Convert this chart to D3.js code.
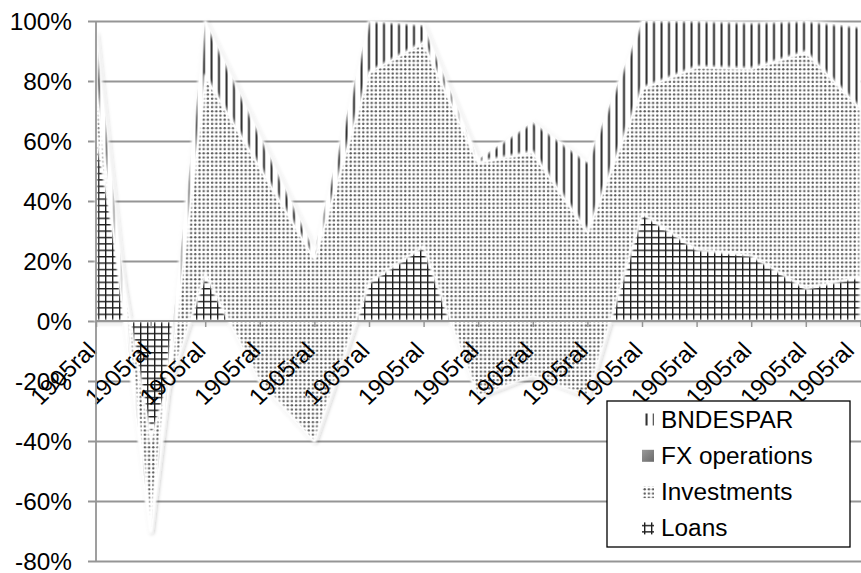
<!DOCTYPE html>
<html>
<head>
<meta charset="utf-8">
<script src="https://cdn.jsdelivr.net/npm/d3@7"></script>
<style>
  body { margin: 0; background: #fff; }
  svg { display: block; }
  text { font-family: "Liberation Sans", Arial, sans-serif; fill: #000; }
</style>
</head>
<body>
<svg id="chart" width="861" height="573"></svg>
<script>
// Category labels along the x axis
const categories = ["1905ral","1905ral","1905ral","1905ral","1905ral","1905ral","1905ral","1905ral",
                    "1905ral","1905ral","1905ral","1905ral","1905ral","1905ral","1905ral"];

// Series values, in percent (stacked in this order: Loans, Investments, FX operations, BNDESPAR)
const loans        = [64, -40, 16, -20, -40, 13, 25, -25, -18, -25, 36, 24, 22, 11, 15];
const investments  = [16, -30, 66, 71.5, 61, 70, 68, 78, 74.4, 55, 41.6, 60.8, 62.2, 78.8, 56];
const fxOperations = [0, 0, 0, 0, 0, 0, 0, 0, 0, 0, 0, 0, 0, 0, 0];
const bndespar     = [16, 0, 18, 10.5, 2.7, 17, 5.7, 1, 10, 23, 22.4, 15.2, 15.2, 10.2, 27];

const seriesNames = ["Loans", "Investments", "FX operations", "BNDESPAR"];
const legendOrder = ["BNDESPAR", "FX operations", "Investments", "Loans"];

// Y axis tick values and labels
const yTicks = [-80, -60, -40, -20, 0, 20, 40, 60, 80, 100];
const yTickLabels = ["-80%", "-60%", "-40%", "-20%", "0%", "20%", "40%", "60%", "80%", "100%"];

const svg = d3.select("#chart");
const W = 861;
const plot = { left: 96, right: 860.4, top: 21, bottom: 561 };
const FONT = 23;
const TEXT_STRETCH = 1.06;

const x = d3.scalePoint().domain(d3.range(categories.length)).range([plot.left, plot.right]);
const y = d3.scaleLinear().domain([-80, 100]).range([plot.bottom, plot.top]);

// ---- fill patterns ----
const defs = svg.append("defs");

const pStripe = defs.append("pattern").attr("id", "pat-bnd").attr("patternUnits", "userSpaceOnUse")
  .attr("width", 7.5).attr("height", 10);
pStripe.append("rect").attr("width", 7.5).attr("height", 10).attr("fill", "#fff");
pStripe.append("rect").attr("x", 0.5).attr("width", 2).attr("height", 10).attr("fill", "#2b2b2b");

const pDots = defs.append("pattern").attr("id", "pat-inv").attr("patternUnits", "userSpaceOnUse")
  .attr("width", 8.4).attr("height", 8.4);
pDots.append("rect").attr("width", 8.4).attr("height", 8.4).attr("fill", "#fff");
[[2.1, 2.1], [6.3, 2.1], [2.1, 6.3], [6.3, 6.3]].forEach(([cx, cy]) =>
  pDots.append("circle").attr("cx", cx).attr("cy", cy).attr("r", 1.2).attr("fill", "#5a5a5a"));

const pGrid = defs.append("pattern").attr("id", "pat-loans").attr("patternUnits", "userSpaceOnUse")
  .attr("width", 7).attr("height", 6.4);
pGrid.append("rect").attr("width", 7).attr("height", 6.4).attr("fill", "#fff");
pGrid.append("rect").attr("x", 0).attr("width", 1.4).attr("height", 6.4).attr("fill", "#1e1e1e");
pGrid.append("rect").attr("y", 0).attr("width", 7).attr("height", 1.4).attr("fill", "#1e1e1e");

const gFx = defs.append("linearGradient").attr("id", "grad-fx").attr("x1", 0).attr("y1", 0).attr("x2", 1).attr("y2", 1);
gFx.append("stop").attr("offset", "0%").attr("stop-color", "#9a9a9a");
gFx.append("stop").attr("offset", "100%").attr("stop-color", "#6a6a6a");

defs.append("filter").attr("id", "soft").attr("x", "-10%").attr("y", "-10%").attr("width", "120%").attr("height", "120%")
  .append("feGaussianBlur").attr("stdDeviation", 0.8);

defs.append("filter").attr("id", "shade").attr("x", "-5%").attr("y", "-5%").attr("width", "110%").attr("height", "110%")
  .append("feDropShadow").attr("dx", 1.5).attr("dy", 1.5).attr("stdDeviation", 1.5)
  .attr("flood-color", "#000").attr("flood-opacity", 0.22);

const fills = {
  "Loans": "url(#pat-loans)",
  "Investments": "url(#pat-inv)",
  "FX operations": "url(#grad-fx)",
  "BNDESPAR": "url(#pat-bnd)"
};

// ---- gridlines ----
svg.append("g")
  .attr("transform", `translate(${plot.left - 8},0)`)
  .call(d3.axisRight(y).tickValues(yTicks).tickSize(W - plot.left + 8).tickFormat(""))
  .call(g => g.select(".domain").remove())
  .call(g => g.selectAll("line").attr("stroke", "#959595").attr("stroke-width", 1.8));

// ---- stacked areas ----
const rows = categories.map((c, i) => ({
  i,
  "Loans": loans[i],
  "Investments": investments[i],
  "FX operations": fxOperations[i],
  "BNDESPAR": bndespar[i]
}));
const stacked = d3.stack().keys(seriesNames).offset(d3.stackOffsetNone)(rows);

const area = d3.area()
  .x(d => x(d.data.i))
  .y0(d => y(d[0]))
  .y1(d => y(d[1]));

const gAreas = svg.append("g").attr("filter", "url(#shade)");
stacked.forEach(s => {
  gAreas.append("path").attr("d", area(s)).attr("fill", fills[s.key]);
  gAreas.append("path").attr("d", area(s)).attr("fill", "none")
    .attr("stroke", "#fff").attr("stroke-width", 2.4).attr("stroke-linejoin", "round")
    .attr("filter", "url(#soft)");
});

// ---- axes ----
// x axis along 0%
svg.append("g")
  .attr("transform", `translate(0,${y(0)})`)
  .call(d3.axisBottom(x).tickSize(6).tickSizeOuter(0).tickFormat(""))
  .call(g => g.select(".domain").attr("stroke", "#959595").attr("stroke-width", 1.8)
    .attr("d", `M${plot.left},0H${W}`))
  .call(g => g.selectAll("line").attr("stroke", "#959595").attr("stroke-width", 1.5));

// x labels, rotated
const gxLab = svg.append("g");
categories.forEach((c, i) => {
  gxLab.append("text")
    .attr("transform", `translate(${Math.min(x(i) + 2, 855.5)},352) scale(${TEXT_STRETCH},1) rotate(-45)`)
    .attr("text-anchor", "end")
    .attr("font-size", FONT)
    .text(c);
});

// y axis line
svg.append("line")
  .attr("x1", plot.left).attr("x2", plot.left)
  .attr("y1", y(100)).attr("y2", y(-80))
  .attr("stroke", "#959595").attr("stroke-width", 1.8);

// y labels
svg.append("g")
  .attr("transform", `translate(${plot.left - 8},0)`)
  .call(d3.axisLeft(y).tickValues(yTicks).tickSize(0).tickPadding(16)
    .tickFormat((d, i) => yTickLabels[i]))
  .call(g => g.select(".domain").remove())
  .call(g => g.selectAll("text")
    .attr("font-size", FONT)
    .attr("font-family", "Liberation Sans, Arial, sans-serif")
    .attr("fill", "#000")
    .attr("dy", null)
    .attr("x", null)
    .attr("transform", `translate(-16,8) scale(${TEXT_STRETCH},1)`));

// ---- legend ----
const lg = svg.append("g");
lg.append("rect").attr("x", 607).attr("y", 401).attr("width", 243).attr("height", 146)
  .attr("fill", "#fff").attr("stroke", "#000").attr("stroke-width", 1.3);
legendOrder.forEach((name, k) => {
  const cy = 419.5 + k * 36.3;
  lg.append("rect").attr("x", 642).attr("y", cy - 6).attr("width", 12).attr("height", 12)
    .attr("fill", fills[name]);
  lg.append("text")
    .attr("transform", `translate(661,${cy + 8}) scale(${TEXT_STRETCH},1)`)
    .attr("font-size", FONT)
    .text(name);
});
</script>
</body>
</html>
